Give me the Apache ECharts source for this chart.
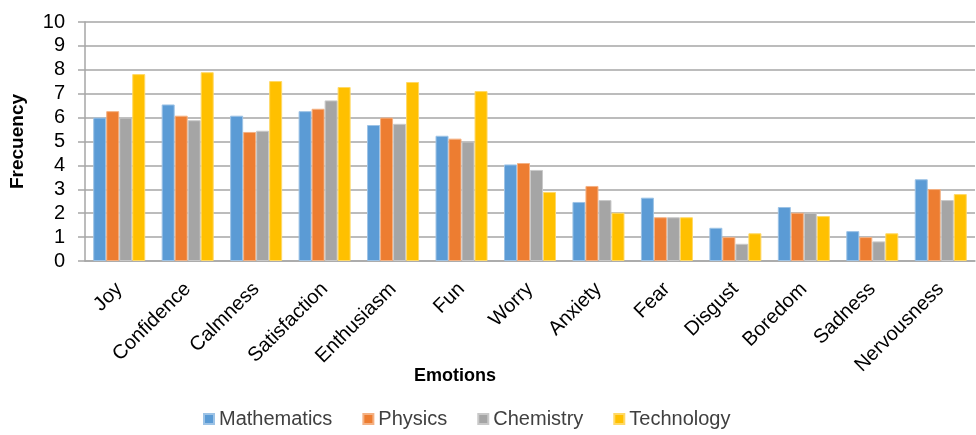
<!DOCTYPE html>
<html>
<head>
<meta charset="utf-8">
<script src="https://cdn.jsdelivr.net/npm/echarts@6/dist/echarts.min.js"></script>
<style>
html,body{margin:0;padding:0;background:#fff;}
#main{width:976px;height:435px;}
</style>
</head>
<body>
<div id="main"></div>
<script>
var emotions = ['Joy','Confidence','Calmness','Satisfaction','Enthusiasm','Fun','Worry','Anxiety','Fear','Disgust','Boredom','Sadness','Nervousness'];
var mathematics = [6.0, 6.55, 6.08, 6.27, 5.69, 5.24, 4.04, 2.47, 2.65, 1.39, 2.26, 1.25, 3.42];
var physics     = [6.27, 6.08, 5.4, 6.37, 6.0, 5.12, 4.1, 3.14, 1.83, 1.0, 2.02, 1.0, 3.01];
var chemistry   = [6.0, 5.89, 5.45, 6.72, 5.74, 5.0, 3.81, 2.55, 1.83, 0.72, 2.02, 0.82, 2.55];
var technology  = [7.82, 7.9, 7.53, 7.28, 7.49, 7.11, 2.89, 2.02, 1.83, 1.16, 1.88, 1.16, 2.8];
var seriesNames = ['Mathematics','Physics','Chemistry','Technology'];
var colors = ['#5B9BD5','#ED7D31','#A5A5A5','#FFC000'];
var borders = ['#9DC3E6','#F4B183','#C9C9C9','#FFD966'];

var myChart = echarts.init(document.getElementById('main'));
var font = 'Liberation Sans';
var allData = [mathematics, physics, chemistry, technology];
var series = [];
for (var i = 0; i < 4; i++) {
    series.push({
        name: seriesNames[i],
        type: 'bar',
        data: allData[i],
        barGap: '0%',
        barCategoryGap: '24%',
        itemStyle: {color: colors[i], borderColor: borders[i], borderWidth: 1}
    });
}
myChart.setOption({
    animation: false,
    color: colors,
    textStyle: {fontFamily: font},
    grid: {left: 82, right: 1, top: 22, bottom: 174, containLabel: false},
    legend: {
        data: seriesNames,
        bottom: 1,
        left: 198,
        icon: 'rect',
        itemWidth: 10,
        itemHeight: 10,
        itemGap: 30,
        textStyle: {fontSize: 20, color: '#404040', fontFamily: font}
    },
    xAxis: {
        type: 'category',
        data: emotions,
        name: 'Emotions',
        nameLocation: 'middle',
        nameGap: 106,
        nameMoveOverlap: false,
        nameTextStyle: {fontSize: 18, fontWeight: 'bold', color: '#000', fontFamily: font, padding: [0, 150, 0, 0]},
        axisLine: {lineStyle: {color: '#A6A6A6', width: 1.5}},
        axisTick: {show: false},
        axisLabel: {rotate: 45, fontSize: 20, color: '#000', interval: 0, margin: 25, fontFamily: font}
    },
    yAxis: {
        type: 'value',
        min: 0,
        max: 10,
        interval: 1,
        name: 'Frecuency',
        nameLocation: 'middle',
        nameGap: 58,
        nameTextStyle: {fontSize: 19, fontWeight: 'bold', color: '#000', fontFamily: font},
        axisLine: {show: true, lineStyle: {color: '#A6A6A6', width: 1.5}},
        axisTick: {show: true, length: 7, inside: false, lineStyle: {color: '#A6A6A6', width: 1.5}},
        axisLabel: {fontSize: 20, color: '#000', margin: 20, fontFamily: font},
        splitLine: {lineStyle: {color: '#A6A6A6', width: 1.5}}
    },
    series: series
});
</script>
</body>
</html>
